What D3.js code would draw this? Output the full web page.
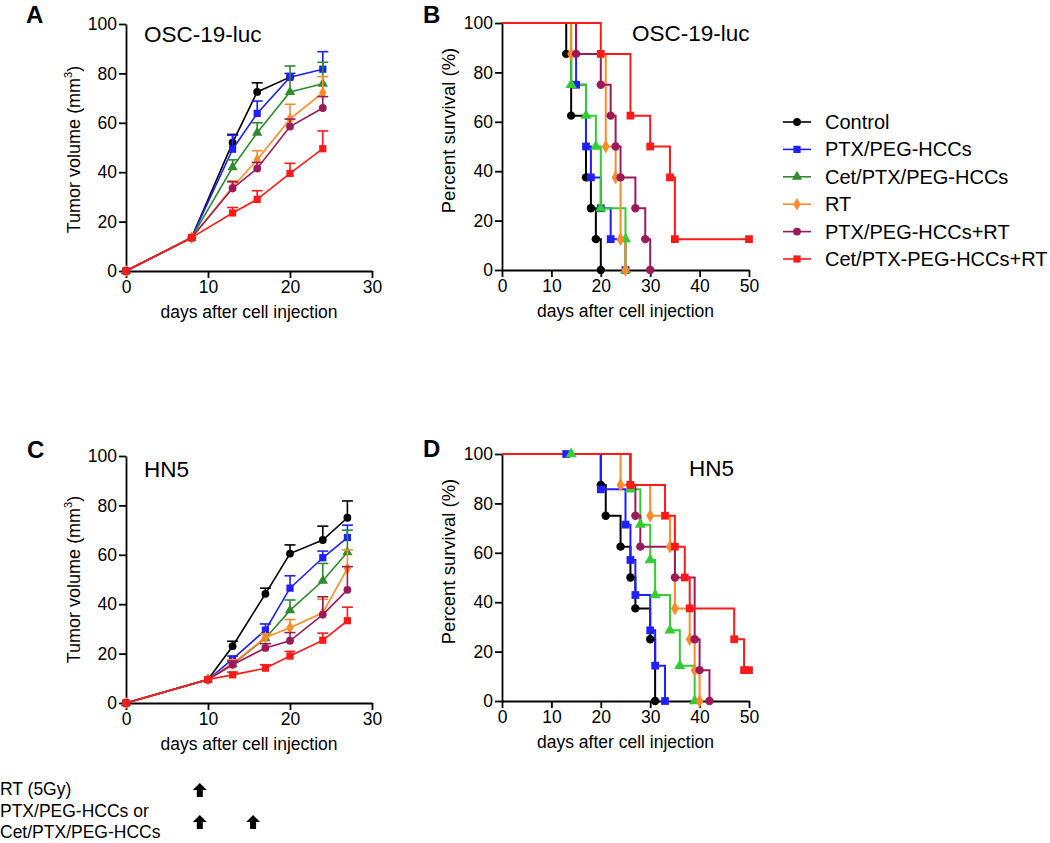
<!DOCTYPE html>
<html><head><meta charset="utf-8">
<script src="https://cdn.jsdelivr.net/npm/d3@7"></script>
<style>body{margin:0;background:#fff}svg{display:block}</style>
</head><body>
<svg id="c" width="1050" height="843"></svg>
<script>
// ---------- DATA ----------
const seriesNames = ["Control","PTX/PEG-HCCs","Cet/PTX/PEG-HCCs","RT","PTX/PEG-HCCs+RT","Cet/PTX-PEG-HCCs+RT"];
const seriesShapes = ["circle","square","triangle","diamond","circle","square"];
const colorsGrowth = ["#000000","#1f1fff","#2e8b2e","#ff8a2a","#9b1b5a","#ff1a1a"];
const colorsSurv   = ["#000000","#1f1fff","#33cc33","#ff8a2a","#9b1b5a","#ff1a1a"];

// Panel A: tumor growth OSC-19-luc
const daysA = [0, 8, 13, 16, 20, 24];
const volA = [
  [0, 13.5, 52, 72.5, 78.5, null],
  [0, 13.5, 49.3, 63.8, 78.5, 81.7],
  [0, 13.5, 42, 56, 72.5, 75.8],
  [0, 13.5, 34, 45, 61.5, 72.2],
  [0, 13.5, 33.5, 41.5, 58.5, 66],
  [0, 13.5, 23.5, 29, 39.5, 49.5]
];
const errA = [
  [null, null, 55.3, 76.2, null, null],
  [null, null, 55, 68.8, 80, 88.8],
  [null, null, 45, 60, 83, 84.5],
  [null, null, 36.5, 48.7, 67.5, 78.7],
  [null, null, 36.1, 44, 61.5, 70.6],
  [null, null, 25.7, 32.5, 43.6, 56.7]
];

// Panel C: tumor growth HN5
const daysC = [0, 10, 13, 17, 20, 24, 27];
const volC = [
  [0, 9.5, 23, 44.2, 60.5, 66, 75],
  [0, 9.5, 17.8, 29.5, 46.5, 58.8, 67],
  [0, 9.5, 15.7, 26.2, 37.5, 49.5, 61],
  [0, 9.5, 16, 26.5, 30.5, 36.5, 54.5],
  [0, 9.5, 15.5, 22.3, 25.2, 35.8, 45.8],
  [0, 9.5, 11.4, 14.1, 19, 25.4, 33.3]
];
const errC = [
  [null, null, 25, 46.5, 64, 71.6, 81.8],
  [null, null, 19, 32, 51.5, 61.5, 72],
  [null, null, 17, 28, 41.7, 56.5, 70],
  [null, null, 17.5, 28, 33.8, 42, 62],
  [null, null, 17, 24, 28.5, 43, 55.2],
  [null, null, 12.5, 15.5, 20.9, 28.3, 38.8]
];

// Panel B: survival OSC-19-luc (event times, survival %)
const survB_t = [
  [13, 14, 17, 18, 19, 20],
  [15, 17, 18, 20, 22, 25],
  [14, 17, 19, 20, 25, 25],
  [14, 21, 23, 24, 25],
  [15, 20, 22, 23, 24, 27, 29, 30],
  [20, 26, 30, 34, 35, 50]
];
const survB_s = [
  [87.5, 62.5, 37.5, 25, 12.5, 0],
  [75, 50, 37.5, 25, 12.5, 0],
  [75, 62.5, 50, 25, 12.5, 0],
  [87.5, 50, 37.5, 12.5, 0],
  [87.5, 75, 62.5, 50, 37.5, 25, 12.5, 0],
  [87.5, 62.5, 50, 37.5, 12.5, 12.5]
];

// Panel D: survival HN5
const survD_t = [
  [20, 21, 24, 26, 27, 30, 31],
  [13, 20, 25, 26, 27, 30, 31, 33],
  [14, 26, 28, 30, 31, 34, 36, 39],
  [24, 30, 34, 35, 38, 39, 40],
  [26, 27, 28, 35, 39, 40, 42],
  [26, 33, 35, 37, 38, 47, 49, 50]
];
const survD_s = [
  [87.5, 75, 62.5, 50, 37.5, 25, 0],
  [100, 85.7, 71.4, 57.1, 42.9, 28.6, 14.3, 0],
  [100, 85.7, 71.4, 57.1, 42.9, 28.6, 14.3, 0],
  [87.5, 75, 62.5, 37.5, 25, 12.5, 0],
  [87.5, 75, 62.5, 50, 25, 12.5, 0],
  [87.5, 75, 62.5, 50, 37.5, 25, 12.5, 12.5]
];

const yTicks = [0, 20, 40, 60, 80, 100];
const xTicksGrowth = [0, 10, 20, 30];
const xTicksSurv = [0, 10, 20, 30, 40, 50];
const rtDays = [9];
const drugDays = [9, 15.5];

// ---------- DRAW ----------
const svg = d3.select("#c");
const FONT = "'Liberation Sans', Arial, sans-serif";

function txt(g, x, y, s, size, opts = {}) {
  const t = g.append("text")
    .attr("transform", `translate(${x},${y})` + (opts.rotate ? ` rotate(${opts.rotate})` : ""))
    .attr("font-family", FONT).attr("font-size", size)
    .attr("font-weight", opts.weight || "normal")
    .attr("text-anchor", opts.anchor || "start")
    .attr("fill", "#000");
  t.text(s);
  return t;
}

function symPath(shape, size) {
  const m = {circle: d3.symbolCircle, square: d3.symbolSquare, triangle: d3.symbolTriangle, diamond: d3.symbolDiamond};
  return d3.symbol().type(m[shape]).size(size)();
}
const symSize = {circle: 48, square: 52, triangle: 46, diamond: 46};

function axes(g, x, y, xTicks) {
  const ax = g.append("g").attr("transform", `translate(0,${y.range()[0]})`)
    .call(d3.axisBottom(x).tickValues(xTicks).tickSize(7).tickSizeOuter(0).tickPadding(3));
  const ay = g.append("g").attr("transform", `translate(${x.range()[0]},0)`)
    .call(d3.axisLeft(y).tickValues(yTicks).tickSize(7).tickSizeOuter(0).tickPadding(2));
  [ax, ay].forEach(a => {
    a.select(".domain").attr("stroke", "#000").attr("stroke-width", 1.8);
    a.selectAll(".tick line").attr("stroke", "#000").attr("stroke-width", 1.8);
    a.selectAll(".tick text").attr("font-family", FONT).attr("font-size", 17.5).attr("fill", "#000");
  });
}

function growthPanel(box, days, vals, errs, title, letter, titlePos, yLabDy) {
  const g = svg.append("g");
  const x = d3.scaleLinear().domain([0, 30]).range([box.x0, box.x1]);
  const y = d3.scaleLinear().domain([0, 100]).range([box.y0, box.y1]);
  axes(g, x, y, xTicksGrowth);
  vals.forEach((series, i) => {
    const col = colorsGrowth[i];
    const pts = days.map((d, j) => ({d, v: series[j], e: errs[i][j]})).filter(p => p.v != null);
    pts.filter(p => p.e != null).forEach(p => {
      g.append("line").attr("x1", x(p.d)).attr("x2", x(p.d)).attr("y1", y(p.v)).attr("y2", y(p.e))
        .attr("stroke", col).attr("stroke-width", 1.6);
      g.append("line").attr("x1", x(p.d) - 5.5).attr("x2", x(p.d) + 5.5).attr("y1", y(p.e)).attr("y2", y(p.e))
        .attr("stroke", col).attr("stroke-width", 1.6);
    });
    g.append("path").datum(pts)
      .attr("d", d3.line().x(p => x(p.d)).y(p => y(p.v)))
      .attr("fill", "none").attr("stroke", col).attr("stroke-width", 1.6);
    pts.forEach(p => {
      g.append("path").attr("d", symPath(seriesShapes[i], symSize[seriesShapes[i]]))
        .attr("transform", `translate(${x(p.d)},${y(p.v)})`).attr("fill", col);
    });
  });
  txt(g, (box.x0 + box.x1) / 2, box.y0 + 47, "days after cell injection", 17.5, {anchor: "middle"});
  const yl = txt(g, box.x0 - 46, (box.y0 + box.y1) / 2 + yLabDy, "", 18, {anchor: "middle", rotate: -90});
  yl.append("tspan").text("Tumor volume (mm");
  yl.append("tspan").text("3").attr("font-size", 11).attr("dy", -8);
  yl.append("tspan").text(")").attr("dy", 8);
  txt(g, titlePos[0], titlePos[1], title, 22.5);
  txt(g, letter[1], letter[2], letter[0], 24, {weight: "bold"});
  return x;
}

function survPanel(box, ts, ss, title, letter, titlePos, yLabDy) {
  const g = svg.append("g");
  const x = d3.scaleLinear().domain([0, 50]).range([box.x0, box.x1]);
  const y = d3.scaleLinear().domain([0, 100]).range([box.y0, box.y1]);
  axes(g, x, y, xTicksSurv);
  ts.forEach((times, i) => {
    const col = colorsSurv[i];
    const pts = [[0, 100]];
    let prev = 100;
    times.forEach((t, j) => { pts.push([t, prev]); pts.push([t, ss[i][j]]); prev = ss[i][j]; });
    g.append("path").datum(pts)
      .attr("d", d3.line().x(p => x(p[0])).y(p => y(p[1])))
      .attr("fill", "none").attr("stroke", col).attr("stroke-width", 2);
  });
  ts.forEach((times, i) => {
    const col = colorsSurv[i];
    times.forEach((t, j) => {
      g.append("path").attr("d", symPath(seriesShapes[i], symSize[seriesShapes[i]] + 8))
        .attr("transform", `translate(${x(t)},${y(ss[i][j])})`).attr("fill", col);
    });
  });
  txt(g, (box.x0 + box.x1) / 2, box.y0 + 47, "days after cell injection", 17.5, {anchor: "middle"});
  txt(g, box.x0 - 47, (box.y0 + box.y1) / 2 + yLabDy, "Percent survival (%)", 18.5, {anchor: "middle", rotate: -90});
  txt(g, titlePos[0], titlePos[1], title, 22.5);
  txt(g, letter[1], letter[2], letter[0], 24, {weight: "bold"});
}

growthPanel({x0: 126, x1: 372, y0: 271, y1: 24}, daysA, volA, errA, "OSC-19-luc", ["A", 26, 23], [144, 42], 2);
survPanel({x0: 502, x1: 749, y0: 270, y1: 23}, survB_t, survB_s, "OSC-19-luc", ["B", 423, 23], [632, 41], -16);
const xC = growthPanel({x0: 126, x1: 372, y0: 703, y1: 456}, daysC, volC, errC, "HN5", ["C", 27, 458], [144, 477], 0);
survPanel({x0: 502, x1: 749, y0: 701, y1: 454}, survD_t, survD_s, "HN5", ["D", 423, 457], [689, 476], -16);

// Legend
const lg = svg.append("g");
seriesNames.forEach((name, i) => {
  const yy = 122 + i * 27.4;
  lg.append("line").attr("x1", 783).attr("x2", 811).attr("y1", yy).attr("y2", yy)
    .attr("stroke", colorsGrowth[i]).attr("stroke-width", 1.6);
  lg.append("path").attr("d", symPath(seriesShapes[i], symSize[seriesShapes[i]]))
    .attr("transform", `translate(797,${yy})`).attr("fill", colorsGrowth[i]);
  txt(lg, 825, yy + 7, name, 20);
});

// Treatment annotation
const tg = svg.append("g");
txt(tg, 0, 795, "RT (5Gy)", 17.5);
txt(tg, 0, 817, "PTX/PEG-HCCs or", 17.5);
txt(tg, 0, 838, "Cet/PTX/PEG-HCCs", 17.5);
function arrow(cx, top) {
  const p = d3.path();
  p.moveTo(cx, top); p.lineTo(cx + 7, top + 7); p.lineTo(cx + 3, top + 7); p.lineTo(cx + 3, top + 14);
  p.lineTo(cx - 3, top + 14); p.lineTo(cx - 3, top + 7); p.lineTo(cx - 7, top + 7); p.closePath();
  tg.append("path").attr("d", p.toString()).attr("fill", "#000");
}
rtDays.forEach(d => arrow(xC(d), 783));
drugDays.forEach(d => arrow(xC(d), 815));
</script>
</body></html>
